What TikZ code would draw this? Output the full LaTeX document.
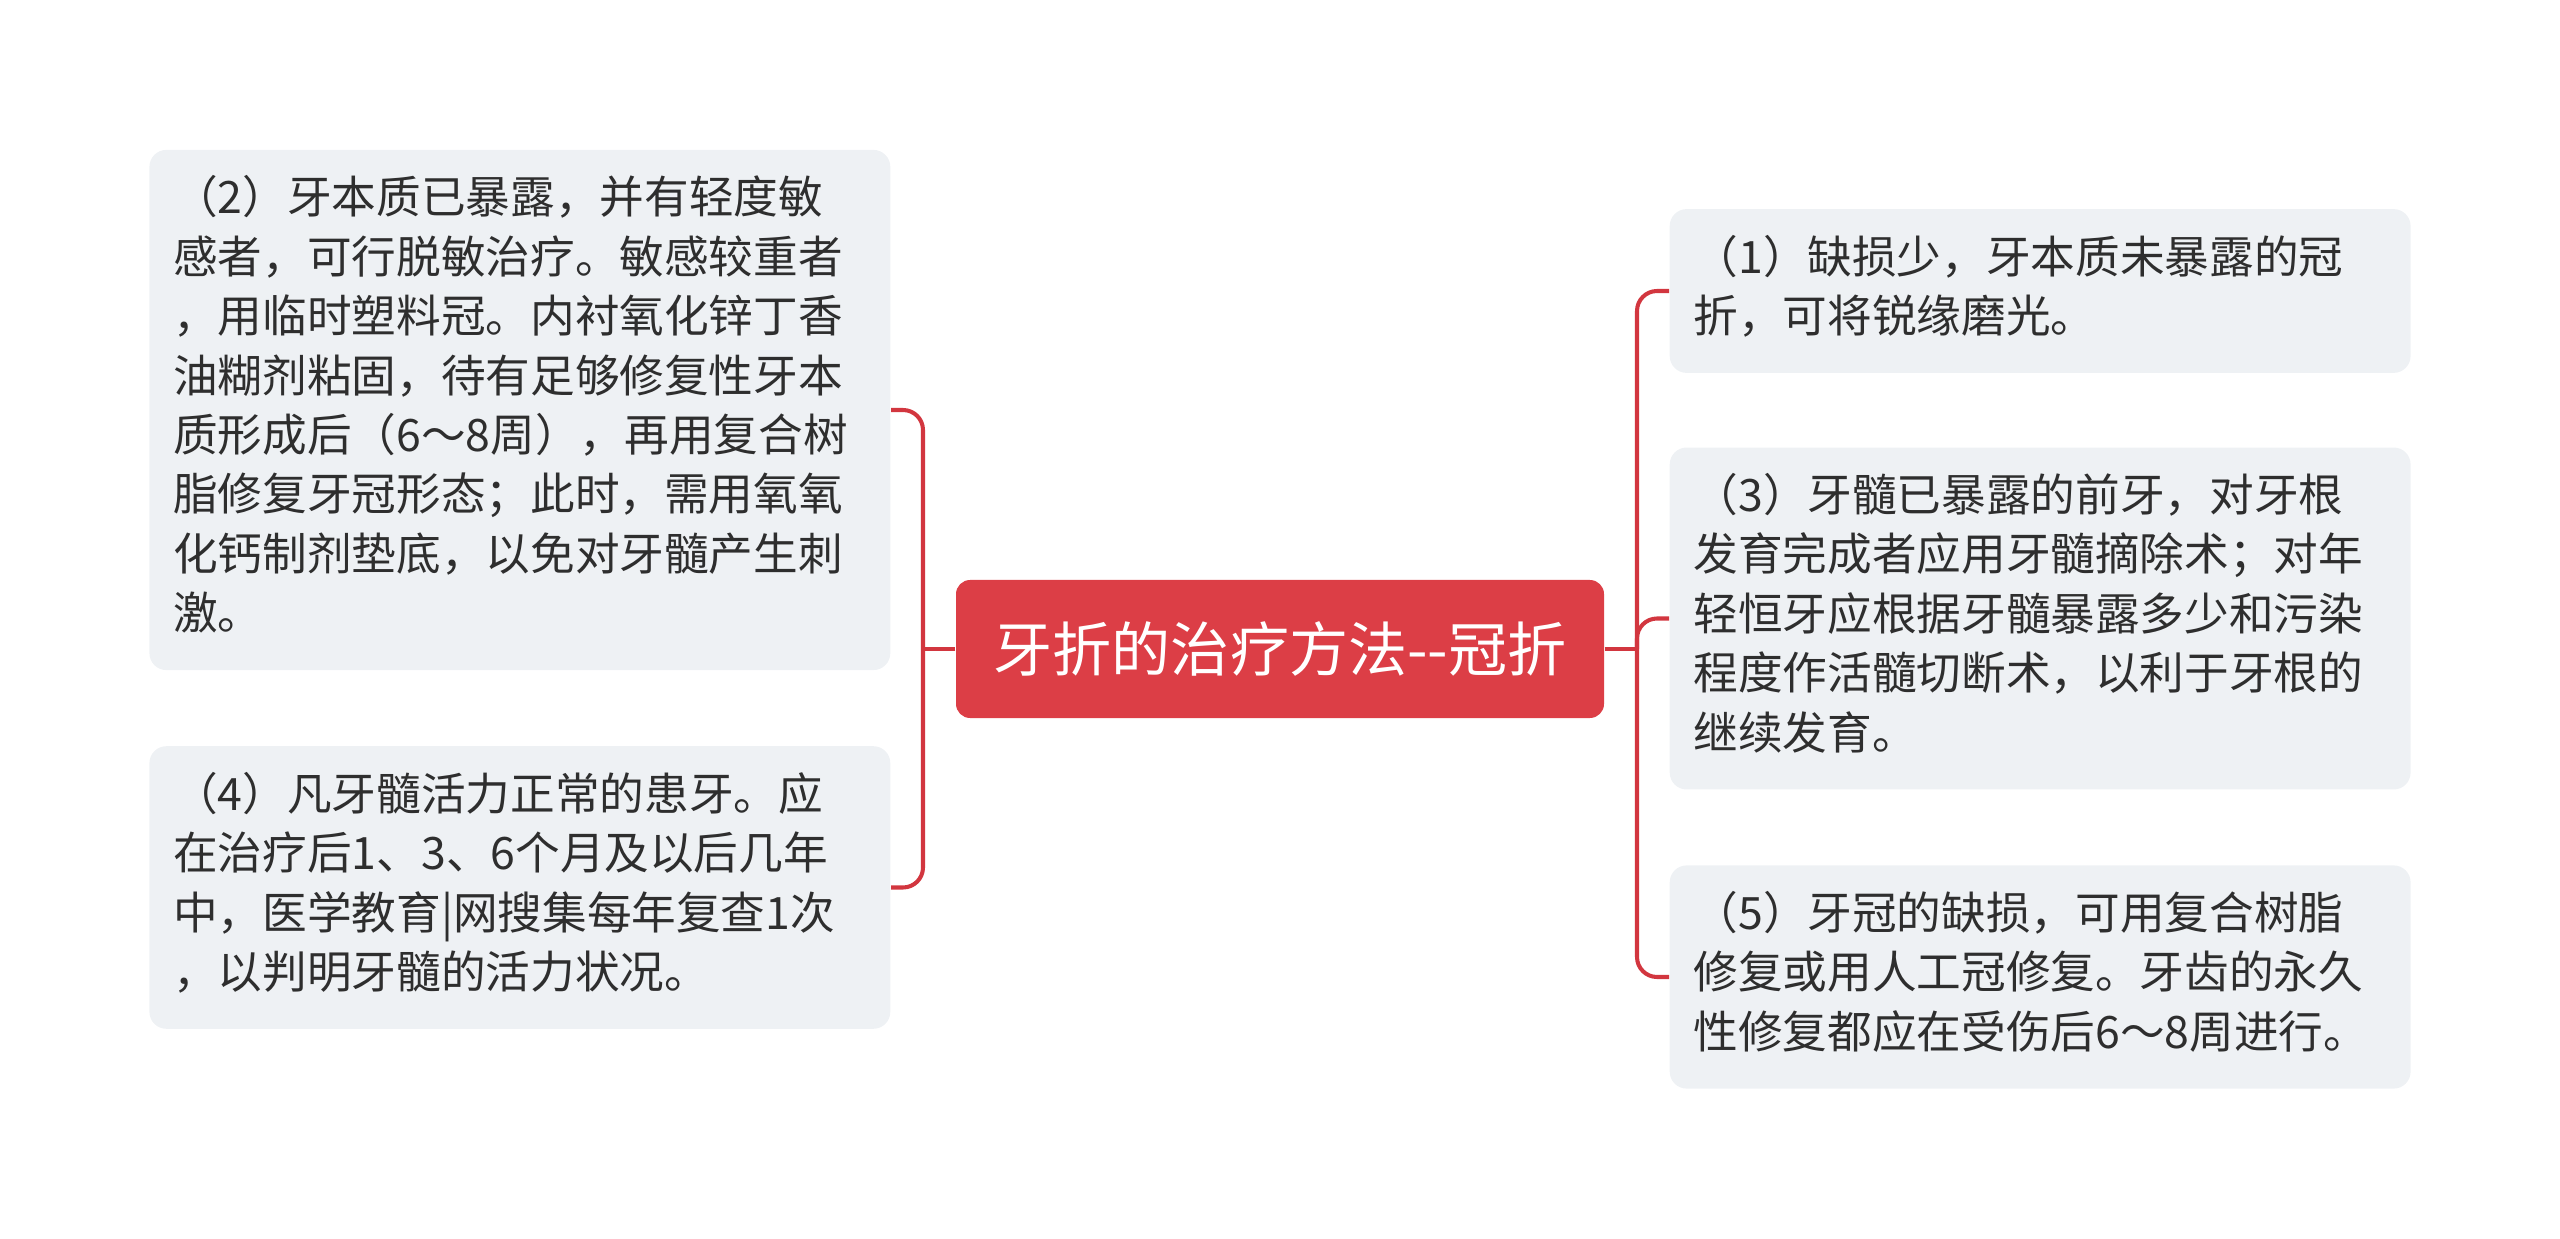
\documentclass[tikz,border=0pt]{standalone}
\usepackage{fontspec}
\setmainfont{Noto Sans CJK SC}
\definecolor{topicred}{HTML}{DC3E46}
\definecolor{linkred}{HTML}{D2363F}
\definecolor{leafgray}{HTML}{EEF1F4}
\definecolor{inkgray}{HTML}{2E2E2E}
\tikzset{
  topic/.style={fill=topicred, text=white, rounded corners=4pt,
    minimum width=6.48cm, minimum height=1.38cm, inner sep=0pt,
    font=\fontsize{16.8}{19}\selectfont},
  leaf/.style={fill=leafgray, text=inkgray, rounded corners=4.8pt,
    text width=197.2pt, inner xsep=6.8pt, inner ysep=6.4pt, align=left,
    font=\fontsize{12.7}{16.9}\selectfont},
  link/.style={draw=linkred, line width=1.15pt, rounded corners=0.2cm}
}
\begin{document}
\begin{tikzpicture}
    \useasboundingbox (0,0) rectangle (25.6,-12.39);
    % centre topic
    \node[topic] (root) at (12.80,-6.49) {牙折的治疗方法-{}-冠折};
    % left side
    \node[leaf, anchor=east] (t2) at (8.91,-4.10) {\strut（2）牙本质已暴露，并有轻度敏\\感者，可行脱敏治疗。敏感较重者\\，用临时塑料冠。内衬氧化锌丁香\\油糊剂粘固，待有足够修复性牙本\\质形成后（6～8周），再用复合树\\脂修复牙冠形态；此时，需用氧氧\\化钙制剂垫底，以免对牙髓产生刺\\激。\strut};
    \node[leaf, anchor=east] (t4) at (8.91,-8.875) {\strut（4）凡牙髓活力正常的患牙。应\\在治疗后1、3、6个月及以后几年\\中，医学教育|网搜集每年复查1次\\，以判明牙髓的活力状况。\strut};
    % right side
    \node[leaf, anchor=west] (t1) at (16.69,-2.91) {\strut（1）缺损少，牙本质未暴露的冠\\折，可将锐缘磨光。\strut};
    \node[leaf, anchor=west] (t3) at (16.69,-6.185) {\strut（3）牙髓已暴露的前牙，对牙根\\发育完成者应用牙髓摘除术；对年\\轻恒牙应根据牙髓暴露多少和污染\\程度作活髓切断术，以利于牙根的\\继续发育。\strut};
    \node[leaf, anchor=west] (t5) at (16.69,-9.77) {\strut（5）牙冠的缺损，可用复合树脂\\修复或用人工冠修复。牙齿的永久\\性修复都应在受伤后6～8周进行。\strut};
    % connectors
    \coordinate (ltrunk) at (9.23,-6.49);
    \coordinate (rtrunk) at (16.37,-6.49);
    \draw[link] (root.west) -- (ltrunk);
    \draw[link] (t2.east) -| (ltrunk) |- (t4.east);
    \draw[link] (root.east) -- (rtrunk);
    \draw[link] (t1.west) -| (rtrunk) |- (t5.west);
    \draw[link] (rtrunk) |- (t3.west);
\end{tikzpicture}
\end{document}
